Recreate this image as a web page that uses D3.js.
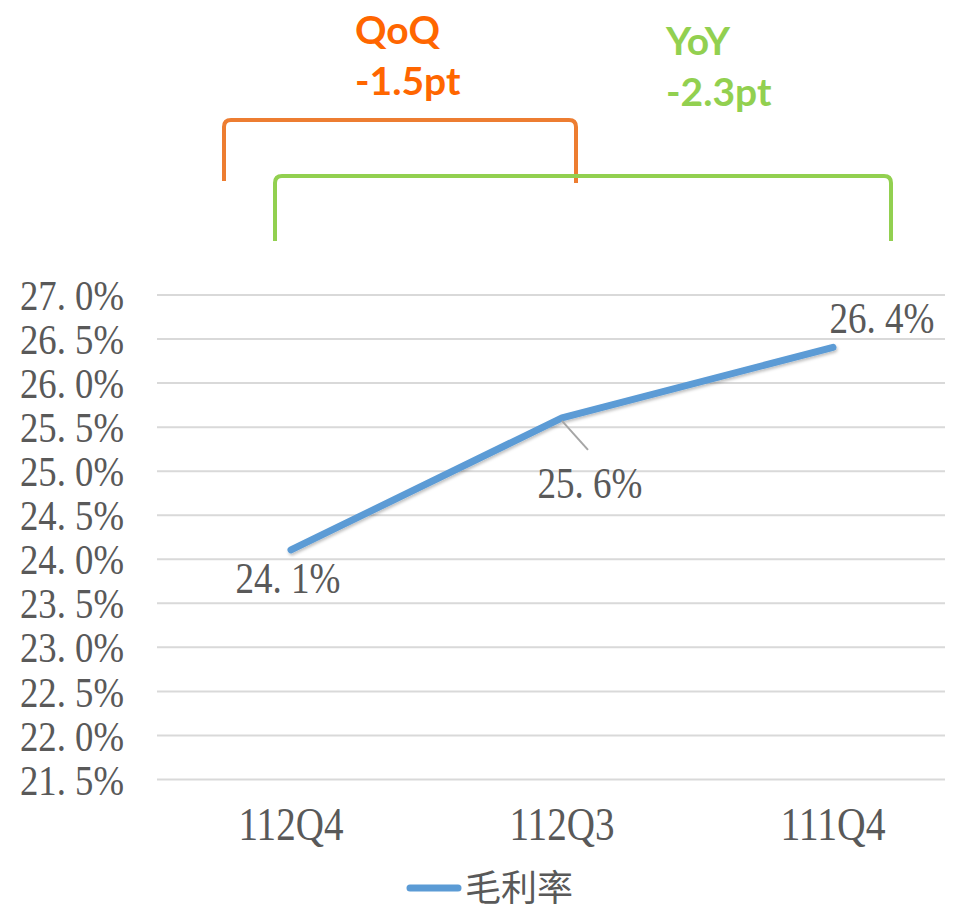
<!DOCTYPE html>
<html lang="zh-Hant">
  <head>
    <meta charset="utf-8">
    <title>毛利率</title>
    <script src="https://cdn.jsdelivr.net/npm/d3@7"></script>
  </head>
  <style>
    body, html {
      margin: 0;
      padding: 0;
      background: #fff;
    }
    svg {
      display: block;
    }
    .num {
      font-family: "Liberation Serif", "DejaVu Serif", serif;
      fill: #595959;
    }
  </style>
  <body>
    <svg width="960" height="910"></svg>
  </body>
  <script>

    // data
    const categories = ['112Q4', '112Q3', '111Q4']
    const grossMargin = [24.1, 25.6, 26.4]
    const yTicks = [21.5, 22.0, 22.5, 23.0, 23.5, 24.0, 24.5, 25.0, 25.5, 26.0, 26.5, 27.0]
    const seriesName = '毛利率'
    const qoqLabel = ['QoQ', '-1.5pt']
    const yoyLabel = ['YoY', '-2.3pt']

    const svg = d3.select('svg')
    const blue = '#5B9BD5'
    const orange = '#ED7D31'
    const green = '#92D050'

    const left = 157, right = 945
    const x = d3.scalePoint().domain(categories).range([291, 833])
    const y = d3.scaleLinear().domain([21.5, 27]).range([779, 294.5])

    const fmt = v => d3.format('.1f')(v).replace('.', '. ') + '%'

    // drop shadow for the line
    const defs = svg.append('defs')
    defs.append('filter').attr('id', 'shadow')
      .attr('x', '-5%').attr('y', '-5%').attr('width', '110%').attr('height', '120%')
      .append('feDropShadow')
      .attr('dx', 1).attr('dy', 2).attr('stdDeviation', 1.5)
      .attr('flood-color', '#000').attr('flood-opacity', 0.25)

    // y axis + gridlines
    const yAxis = svg.append('g')
      .attr('transform', 'translate(' + left + ',0)')
      .call(d3.axisLeft(y).tickValues(yTicks).tickSize(-(right - left)).tickPadding(33).tickFormat(fmt))
    yAxis.select('.domain').remove()
    yAxis.selectAll('line').attr('stroke', '#D9D9D9').attr('stroke-width', 2)
    yAxis.selectAll('text')
      .attr('class', 'num')
      .attr('font-size', 42)
      .attr('dy', '0.36em')
      .attr('textLength', 104)
      .attr('lengthAdjust', 'spacingAndGlyphs')

    // category labels
    svg.append('g').selectAll('text')
      .data(categories)
      .join('text')
      .attr('class', 'num')
      .attr('x', d => x(d))
      .attr('y', 840)
      .attr('text-anchor', 'middle')
      .attr('font-size', 46)
      .attr('textLength', 105)
      .attr('lengthAdjust', 'spacingAndGlyphs')
      .text(d => d)

    // line
    const pts = categories.map((c, i) => [x(c), y(grossMargin[i])])
    svg.append('path')
      .attr('d', d3.line()(pts))
      .attr('fill', 'none')
      .attr('stroke', blue)
      .attr('stroke-width', 7)
      .attr('stroke-linecap', 'round')
      .attr('stroke-linejoin', 'round')
      .attr('filter', 'url(#shadow)')

    // data labels (offset from point: dx, dy)
    const labelOffsets = [[-3, 43], [28, 80], [49, -14]]
    svg.append('line')
      .attr('x1', pts[1][0]).attr('y1', pts[1][1] + 3)
      .attr('x2', pts[1][0] + 26).attr('y2', pts[1][1] + 32)
      .attr('stroke', '#A6A6A6').attr('stroke-width', 2)

    svg.append('g').selectAll('text')
      .data(grossMargin)
      .join('text')
      .attr('class', 'num')
      .attr('x', (d, i) => pts[i][0] + labelOffsets[i][0])
      .attr('y', (d, i) => pts[i][1] + labelOffsets[i][1])
      .attr('text-anchor', 'middle')
      .attr('font-size', 44)
      .attr('textLength', 105)
      .attr('lengthAdjust', 'spacingAndGlyphs')
      .text(d => fmt(d))

    // brackets
    const bracket = function(x1, x2, top, bottom1, bottom2, color) {
      const r = 7
      const p = d3.path()
      p.moveTo(x1, bottom1)
      p.lineTo(x1, top + r)
      p.quadraticCurveTo(x1, top, x1 + r, top)
      p.lineTo(x2 - r, top)
      p.quadraticCurveTo(x2, top, x2, top + r)
      p.lineTo(x2, bottom2)
      svg.append('path')
        .attr('d', p.toString())
        .attr('fill', 'none')
        .attr('stroke', color)
        .attr('stroke-width', 4)
    }
    bracket(x(categories[0]) + 2 - 69, x(categories[1]) + 14, 120, 181, 183, orange)
    bracket(x(categories[0]) - 16, x(categories[2]) + 58, 176, 241, 241, green)

    const note = function(lines, xPos, yPos, color) {
      svg.append('g').selectAll('text')
        .data(lines)
        .join('text')
        .attr('x', xPos)
        .attr('y', (d, i) => yPos + i * 51)
        .attr('font-family', 'Lato, "Open Sans", sans-serif')
        .attr('font-weight', 700)
        .attr('font-size', 39)
        .attr('fill', color)
        .text(d => d)
    }
    note(qoqLabel, 355, 44, '#FF6600')
    note(yoyLabel, 666, 55, green)

    // legend
    const legend = svg.append('g').attr('transform', 'translate(407,888)')
    legend.append('line')
      .attr('x1', 3).attr('x2', 51)
      .attr('stroke', blue).attr('stroke-width', 7).attr('stroke-linecap', 'round')
    legend.append('text')
      .attr('x', 58)
      .attr('dy', '0.36em')
      .attr('font-family', '"Noto Sans CJK TC", sans-serif')
      .attr('font-size', 36)
      .attr('fill', '#595959')
      .text(seriesName)

  </script>
</html>
